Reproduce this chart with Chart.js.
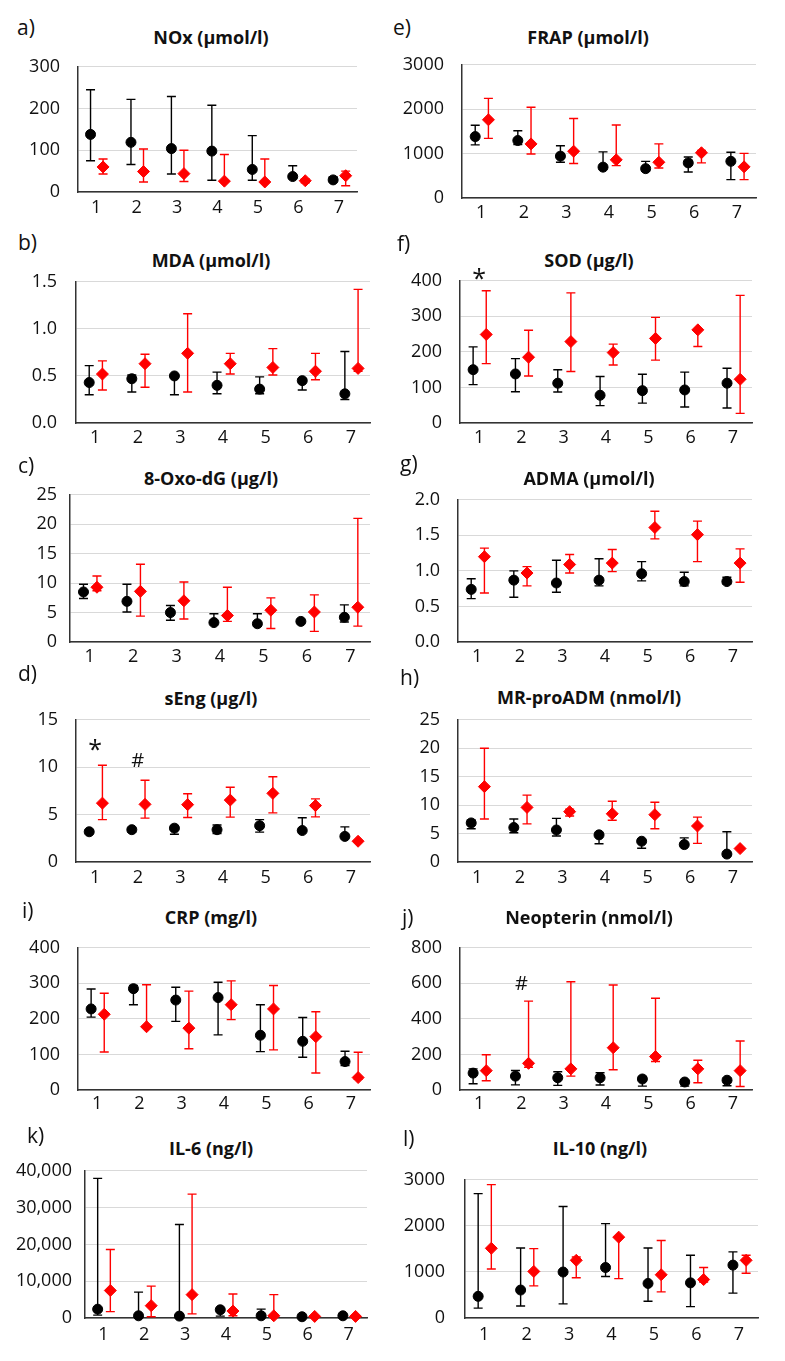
<!DOCTYPE html>
<html>
<head>
<meta charset="utf-8">
<script src="https://cdn.jsdelivr.net/npm/chart.js@4.4.1/dist/chart.umd.min.js"></script>
<style>
  body { margin: 0; background: #fff; }
  #page { position: relative; width: 785px; height: 1361px; overflow: hidden; font-family: 'Open Sans', sans-serif; color: #111; }
  canvas { position: absolute; }
  .title { position: absolute; font-weight: 700; font-size: 18px; transform: translate(-50%, -50%); white-space: nowrap; }
  .letter { position: absolute; font-size: 21px; transform: translateY(-50%); }
</style>
</head>
<body>
<div id="page"></div>
<script>
const groups = [1, 2, 3, 4, 5, 6, 7];

// each entry: [median, lower, upper]; black = circles, red = diamonds
const noxBlack = [[138, 75, 245], [119, 66, 222], [104, 43, 229], [98, 28, 208], [54, 28, 135], [37, 33, 63], [29, 27, 36]];
const noxRed = [[60, 43, 79], [49, 24, 103], [44, 25, 100], [26, 26, 90], [24, 24, 79], [27, 22, 31], [39, 15, 50]];
const noxTicks = ['0', '100', '200', '300'];

const frapBlack = [[1383, 1197, 1638], [1294, 1204, 1514], [943, 805, 1177], [695, 695, 1039], [661, 599, 826], [791, 585, 922], [826, 413, 1032]];
const frapRed = [[1762, 1342, 2244], [1218, 991, 2044], [1053, 778, 1789], [860, 730, 1645], [805, 674, 1218], [1019, 791, 1073], [702, 413, 1005]];
const frapTicks = ['0', '1000', '2000', '3000'];

const mdaBlack = [[0.43, 0.30, 0.61], [0.47, 0.33, 0.51], [0.50, 0.30, 0.50], [0.40, 0.31, 0.54], [0.36, 0.31, 0.49], [0.45, 0.35, 0.47], [0.31, 0.25, 0.76]];
const mdaRed = [[0.52, 0.35, 0.66], [0.63, 0.38, 0.73], [0.74, 0.33, 1.16], [0.63, 0.52, 0.74], [0.59, 0.51, 0.79], [0.55, 0.46, 0.74], [0.58, 0.55, 1.42]];
const mdaTicks = ['0.0', '0.5', '1.0', '1.5'];

const sodBlack = [[150, 108, 214], [138, 88, 181], [112, 87, 150], [78, 49, 131], [91, 56, 137], [93, 45, 143], [112, 42, 154]];
const sodRed = [[249, 167, 372], [185, 132, 261], [229, 145, 366], [198, 163, 222], [238, 177, 297], [262, 215, 262], [123, 27, 359]];
const sodTicks = ['0', '100', '200', '300', '400'];
const sodMarks = [{ x: 1, y: 415, text: '*' }];

const oxoBlack = [[8.5, 7.4, 9.8], [6.9, 5.1, 9.8], [5.0, 3.7, 6.2], [3.3, 3.3, 4.8], [3.1, 2.7, 4.8], [3.5, 3.3, 3.7], [4.2, 3.4, 6.3]];
const oxoRed = [[9.3, 8.7, 11.2], [8.6, 4.4, 13.2], [7.0, 3.9, 10.2], [4.5, 3.5, 9.3], [5.4, 2.3, 7.5], [5.1, 1.8, 8.0], [5.9, 2.7, 21.0]];
const oxoTicks = ['0', '5', '10', '15', '20', '25'];

const admaBlack = [[0.74, 0.61, 0.89], [0.87, 0.63, 1.0], [0.83, 0.70, 1.15], [0.87, 0.79, 1.17], [0.96, 0.86, 1.13], [0.85, 0.79, 0.98], [0.85, 0.82, 0.91]];
const admaRed = [[1.20, 0.69, 1.32], [0.97, 0.79, 1.06], [1.09, 0.97, 1.23], [1.11, 0.99, 1.30], [1.61, 1.45, 1.84], [1.51, 1.13, 1.70], [1.11, 0.84, 1.31]];
const admaTicks = ['0.0', '0.5', '1.0', '1.5', '2.0'];

const sengBlack = [[3.19, 3.0, 3.4], [3.41, 3.15, 3.6], [3.57, 2.93, 3.8], [3.41, 3.0, 3.9], [3.83, 3.15, 4.47], [3.32, 3.32, 4.67], [2.70, 2.70, 3.70]];
const sengRed = [[6.21, 4.47, 10.2], [6.08, 4.63, 8.63], [6.05, 4.7, 7.2], [6.53, 4.73, 7.89], [7.24, 5.18, 9.0], [5.95, 4.76, 6.66], [2.19, 2.19, 2.19]];
const sengTicks = ['0', '5', '10', '15'];
const sengMarks = [{ x: 1, y: 12.1, text: '*' }, { x: 2, y: 10.65, text: '#' }];

const mradmBlack = [[6.87, 5.85, 7.4], [6.06, 5.15, 7.56], [5.63, 4.56, 7.67], [4.77, 3.22, 4.77], [3.65, 2.41, 3.9], [3.06, 2.8, 4.24], [1.39, 1.39, 5.31]];
const mradmRed = [[13.25, 7.56, 20.0], [9.6, 6.7, 11.75], [8.85, 8.1, 9.28], [8.48, 7.35, 10.68], [8.32, 5.85, 10.5], [6.33, 3.27, 7.89], [2.36, 2.36, 2.36]];
const mradmTicks = ['0', '5', '10', '15', '20', '25'];

const crpBlack = [[228, 205, 284], [285, 240, 294], [253, 193, 289], [260, 155, 303], [154, 108, 240], [137, 92, 204], [80, 69, 109]];
const crpRed = [[213, 107, 272], [178, 178, 296], [174, 116, 278], [240, 198, 307], [228, 113, 294], [150, 48, 220], [35, 30, 106]];
const crpTicks = ['0', '100', '200', '300', '400'];

const neoBlack = [[95, 35, 119], [78, 29, 110], [69, 26, 103], [69, 28, 97], [62, 22, 76], [45, 22, 55], [55, 24, 67]];
const neoRed = [[109, 52, 198], [150, 128, 500], [119, 78, 609], [238, 114, 591], [188, 160, 516], [119, 41, 167], [109, 20, 276]];
const neoTicks = ['0', '200', '400', '600', '800'];
const neoMarks = [{ x: 2, y: 593, text: '#' }];

const il6Black = [[2400, 770, 37940], [600, 600, 7040], [515, 515, 25400], [2230, 515, 2230], [600, 340, 2400], [340, 340, 340], [600, 600, 600]];
const il6Red = [[7470, 1720, 18630], [3350, 340, 8670], [6350, 1115, 33650], [1890, 600, 6520], [600, 430, 6350], [430, 430, 430], [430, 430, 430]];
const il6Ticks = ['0', '10,000', '20,000', '30,000', '40,000'];

const il10Black = [[470, 215, 2700], [607, 261, 1520], [998, 307, 2420], [1096, 900, 2048], [750, 365, 1520], [763, 248, 1363], [1148, 541, 1435]];
const il10Red = [[1513, 1063, 2896], [1011, 698, 1507], [1252, 874, 1324], [1755, 855, 1755], [939, 567, 1683], [835, 783, 1096], [1252, 972, 1363]];
const il10Ticks = ['0', '1000', '2000', '3000'];

// panel layout: plot box L/R/T/B in page pixels, title centre, letter position
const panels = [
  { letter: 'a)', title: 'NOx (µmol/l)', black: noxBlack, red: noxRed, ticks: noxTicks, L: 78, R: 357, T: 54, B: 192, yPad: 18, xOff: 16, tx: 211, ty: 37, lx: 17, ly: 27 },
  { letter: 'e)', title: 'FRAP (µmol/l)', black: frapBlack, red: frapRed, ticks: frapTicks, L: 462, R: 756, T: 52, B: 198, yPad: 18, xOff: 15, tx: 588, ty: 37, lx: 393, ly: 27 },
  { letter: 'b)', title: 'MDA (µmol/l)', black: mdaBlack, red: mdaRed, ticks: mdaTicks, L: 76, R: 370, T: 268, B: 423, yPad: 19, xOff: 15, tx: 211, ty: 260, lx: 18, ly: 242 },
  { letter: 'f)', title: 'SOD (µg/l)', black: sodBlack, red: sodRed, ticks: sodTicks, marks: sodMarks, L: 460, R: 752, T: 268, B: 423, yPad: 18, xOff: 15, tx: 589, ty: 260, lx: 397, ly: 243 },
  { letter: 'c)', title: '8-Oxo-dG (µg/l)', black: oxoBlack, red: oxoRed, ticks: oxoTicks, L: 70, R: 370, T: 487, B: 642, yPad: 13, xOff: 15, tx: 211, ty: 478, lx: 18, ly: 465 },
  { letter: 'g)', title: 'ADMA (µmol/l)', black: admaBlack, red: admaRed, ticks: admaTicks, L: 458, R: 752, T: 487, B: 642, yPad: 18, xOff: 15, tx: 589, ty: 478, lx: 400, ly: 463 },
  { letter: 'd)', title: 'sEng (µg/l)', black: sengBlack, red: sengRed, ticks: sengTicks, marks: sengMarks, L: 76, R: 370, T: 707, B: 862, yPad: 18, xOff: 16, tx: 211, ty: 698, lx: 18, ly: 673 },
  { letter: 'h)', title: 'MR-proADM (nmol/l)', black: mradmBlack, red: mradmRed, ticks: mradmTicks, L: 458, R: 752, T: 707, B: 862, yPad: 18, xOff: 16, tx: 589, ty: 697, lx: 400, ly: 677 },
  { letter: 'i)', title: 'CRP (mg/l)', black: crpBlack, red: crpRed, ticks: crpTicks, L: 78, R: 370, T: 935, B: 1090, yPad: 18, xOff: 14, tx: 211, ty: 917, lx: 22, ly: 910 },
  { letter: 'j)', title: 'Neopterin (nmol/l)', black: neoBlack, red: neoRed, ticks: neoTicks, marks: neoMarks, L: 460, R: 752, T: 935, B: 1090, yPad: 18, xOff: 14, tx: 589, ty: 917, lx: 402, ly: 917 },
  { letter: 'k)', title: 'IL-6 (ng/l)', black: il6Black, red: il6Red, ticks: il6Ticks, L: 85, R: 367, T: 1163, B: 1318, yPad: 13, xOff: 17, tx: 211, ty: 1148, lx: 27, ly: 1135 },
  { letter: 'l)', title: 'IL-10 (ng/l)', black: il10Black, red: il10Red, ticks: il10Ticks, L: 465, R: 758, T: 1165, B: 1318, yPad: 20, xOff: 17, tx: 600, ty: 1148, lx: 403, ly: 1138 }
];

const tickFont = { family: "'Open Sans', sans-serif", size: 18 };
const axisColor = '#333';

// whiskers with caps, drawn under the markers
const errorBars = {
  id: 'errorBars',
  beforeDatasetsDraw(chart) {
    const { ctx, scales: { x, y } } = chart;
    chart.data.datasets.forEach(ds => {
      ctx.save();
      ctx.strokeStyle = ds.borderColor;
      ctx.lineWidth = 1.4;
      ds.data.forEach(p => {
        const px = x.getPixelForValue(p.x);
        const top = y.getPixelForValue(p.hi);
        const bot = y.getPixelForValue(p.lo);
        ctx.beginPath();
        ctx.moveTo(px, top); ctx.lineTo(px, bot);
        ctx.moveTo(px - 4.5, top); ctx.lineTo(px + 4.5, top);
        ctx.moveTo(px - 4.5, bot); ctx.lineTo(px + 4.5, bot);
        ctx.stroke();
      });
      ctx.restore();
    });
  }
};

// significance marks (* and #)
const sigMarks = {
  id: 'sigMarks',
  afterDatasetsDraw(chart, args, opts) {
    const items = opts.items || [];
    const { ctx, scales: { x, y } } = chart;
    ctx.save();
    ctx.fillStyle = '#111';
    ctx.textAlign = 'center';
    ctx.textBaseline = 'middle';
    items.forEach(m => {
      ctx.font = (m.text === '*' ? '25px' : '20px') + " 'Open Sans', sans-serif";
      ctx.fillText(m.text, x.getPixelForValue(m.x), y.getPixelForValue(m.y) + (m.text === '*' ? 4 : 0));
    });
    ctx.restore();
  }
};

const page = document.getElementById('page');
const yw = 72, xh = 36, padTop = 16, padRight = 8;

panels.forEach(p => {
  const t = document.createElement('div');
  t.className = 'title';
  t.textContent = p.title;
  t.style.left = p.tx + 'px';
  t.style.top = p.ty + 'px';
  page.appendChild(t);

  const l = document.createElement('div');
  l.className = 'letter';
  l.textContent = p.letter;
  l.style.left = p.lx + 'px';
  l.style.top = p.ly + 'px';
  page.appendChild(l);

  const c = document.createElement('canvas');
  const w = p.R - p.L + yw + padRight;
  const h = p.B - p.T + padTop + xh;
  c.width = w; c.height = h;
  c.style.width = w + 'px'; c.style.height = h + 'px';
  c.style.left = (p.L - yw) + 'px';
  c.style.top = (p.T - padTop) + 'px';
  page.appendChild(c);

  const tickVals = p.ticks.map(s => Number(s.replace(/,/g, '')));

  new Chart(c.getContext('2d'), {
    type: 'scatter',
    data: {
      datasets: [
        {
          data: p.black.map((d, i) => ({ x: groups[i] - 0.14, y: d[0], lo: d[1], hi: d[2] })),
          pointStyle: 'circle', pointRadius: 5, borderWidth: 1,
          backgroundColor: '#000', borderColor: '#000', clip: false
        },
        {
          data: p.red.map((d, i) => ({ x: groups[i] + 0.17, y: d[0], lo: d[1], hi: d[2] })),
          pointStyle: 'rectRot', pointRadius: 6, borderWidth: 1,
          backgroundColor: '#ff0000', borderColor: '#ff0000', clip: false
        }
      ]
    },
    options: {
      responsive: false,
      animation: false,
      events: [],
      layout: { padding: { top: padTop, right: padRight, left: 0, bottom: 0 } },
      plugins: {
        legend: { display: false },
        tooltip: { enabled: false },
        sigMarks: { items: p.marks || [] }
      },
      scales: {
        x: {
          type: 'linear', min: 0.55, max: 7.45,
          afterBuildTicks: s => { s.ticks = groups.map(v => ({ value: v })); },
          afterFit: s => { s.height = xh; },
          ticks: { padding: p.xOff - 11, font: tickFont, color: '#111', maxRotation: 0 },
          grid: { display: false, drawTicks: false },
          border: { color: axisColor, width: 1.5 }
        },
        y: {
          min: tickVals[0], max: tickVals[tickVals.length - 1],
          afterBuildTicks: s => { s.ticks = tickVals.map(v => ({ value: v })); },
          afterFit: s => { s.width = yw; },
          ticks: { padding: p.yPad, font: tickFont, color: '#111', callback: (v, i) => p.ticks[i] },
          grid: { color: '#d9d9d9', lineWidth: 1, drawTicks: false },
          border: { color: axisColor, width: 1.5 }
        }
      }
    },
    plugins: [errorBars, sigMarks]
  });
});
</script>
</body>
</html>
